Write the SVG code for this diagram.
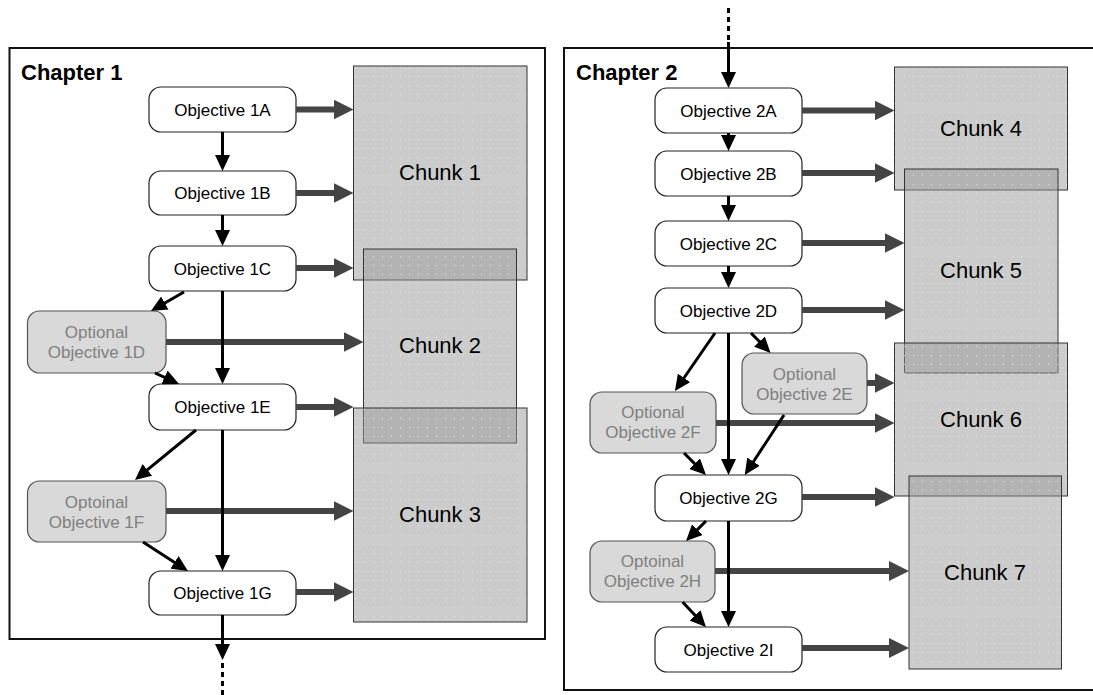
<svg xmlns="http://www.w3.org/2000/svg" width="1093" height="695" viewBox="0 0 1093 695">
<style>
.frame{fill:none;stroke:#111;stroke-width:2}
.title{font-family:"Liberation Sans",Arial,sans-serif;font-weight:bold;font-size:22px;fill:#000}
.obj{fill:#fff;stroke:#222;stroke-width:1.2}
.opt{fill:#d9d9d9;stroke:#555;stroke-width:1.2}
.otext{font-family:"Liberation Sans",Arial,sans-serif;font-size:17px;fill:#000;text-anchor:middle}
.ptext{font-family:"Liberation Sans",Arial,sans-serif;font-size:17px;fill:#808080;text-anchor:middle}
.chunk{fill:url(#dots);stroke:#333;stroke-width:1}
.ctext{font-family:"Liberation Sans",Arial,sans-serif;font-size:22px;fill:#000;text-anchor:middle}
.thick{stroke:#444;stroke-width:6;fill:none;marker-end:url(#hb)}
.thin{stroke:#000;stroke-width:3;fill:none;marker-end:url(#hs)}
.dot{stroke:#000;stroke-width:3;fill:none;stroke-dasharray:5,4}
</style>
<defs>
<pattern id="dots" width="9" height="9" patternUnits="userSpaceOnUse">
<rect width="9" height="9" fill="#999" fill-opacity="0.5"/>
<circle cx="4.5" cy="4.5" r="0.7" fill="#fff" fill-opacity="0.5"/>
</pattern>
<marker id="hb" markerUnits="userSpaceOnUse" markerWidth="20" markerHeight="20" refX="2" refY="10" orient="auto">
<path d="M0,0 L20,10 L0,20 z" fill="#444"/>
</marker>
<marker id="hs" markerUnits="userSpaceOnUse" markerWidth="16" markerHeight="15" refX="2" refY="7.5" orient="auto">
<path d="M0,0 L16,7.5 L0,15 z" fill="#000"/>
</marker>
</defs>
<rect width="1093" height="695" fill="#fff"/>

<g id="chapter1">
<rect class="frame" x="9.5" y="48" width="535.5" height="591"/>
<text class="title" x="21" y="80">Chapter 1</text>
</g>
<g id="chapter2">
<rect class="frame" x="564" y="48" width="560" height="642"/>
<text class="title" x="576" y="80">Chapter 2</text>
</g>

<g id="chunk1"><rect class="chunk" x="353.5" y="66" width="173.5" height="214"/><text class="ctext" x="440" y="180">Chunk 1</text></g>
<g id="chunk2"><rect class="chunk" x="363.5" y="249" width="153" height="194"/><text class="ctext" x="440" y="353">Chunk 2</text></g>
<g id="chunk3"><rect class="chunk" x="353.5" y="408" width="173.5" height="214"/><text class="ctext" x="440" y="522">Chunk 3</text></g>
<g id="chunk4"><rect class="chunk" x="894.5" y="67" width="173" height="123"/><text class="ctext" x="981" y="136">Chunk 4</text></g>
<g id="chunk5"><rect class="chunk" x="904.5" y="169" width="153.5" height="204"/><text class="ctext" x="981" y="278">Chunk 5</text></g>
<g id="chunk6"><rect class="chunk" x="894.5" y="343" width="173" height="153"/><text class="ctext" x="981" y="427">Chunk 6</text></g>
<g id="chunk7"><rect class="chunk" x="909" y="476" width="152.5" height="193"/><text class="ctext" x="985" y="580">Chunk 7</text></g>

<g id="obj1A"><rect class="obj" x="149" y="87" width="147" height="45" rx="12"/><text class="otext" x="222.5" y="115.5">Objective 1A</text></g>
<g id="obj1B"><rect class="obj" x="149" y="171" width="147" height="44" rx="12"/><text class="otext" x="222.5" y="199">Objective 1B</text></g>
<g id="obj1C"><rect class="obj" x="149" y="246" width="147" height="45" rx="12"/><text class="otext" x="222.5" y="274.5">Objective 1C</text></g>
<g id="obj1D"><rect class="opt" x="27.5" y="311" width="138.5" height="62" rx="12"/><text class="ptext" x="96.5" y="338">Optional</text><text class="ptext" x="96.5" y="358">Objective 1D</text></g>
<g id="obj1E"><rect class="obj" x="149" y="384" width="147" height="46" rx="12"/><text class="otext" x="222.5" y="413">Objective 1E</text></g>
<g id="obj1F"><rect class="opt" x="27.5" y="481" width="138.5" height="61" rx="12"/><text class="ptext" x="96.5" y="508">Optoinal</text><text class="ptext" x="96.5" y="528">Objective 1F</text></g>
<g id="obj1G"><rect class="obj" x="149" y="571" width="147" height="44" rx="12"/><text class="otext" x="222.5" y="599">Objective 1G</text></g>

<g id="obj2A"><rect class="obj" x="655" y="88" width="147" height="45" rx="12"/><text class="otext" x="728.5" y="116.5">Objective 2A</text></g>
<g id="obj2B"><rect class="obj" x="655" y="151" width="147" height="45" rx="12"/><text class="otext" x="728.5" y="179.5">Objective 2B</text></g>
<g id="obj2C"><rect class="obj" x="655" y="221" width="147" height="45" rx="12"/><text class="otext" x="728.5" y="249.5">Objective 2C</text></g>
<g id="obj2D"><rect class="obj" x="655" y="288" width="147" height="45" rx="12"/><text class="otext" x="728.5" y="316.5">Objective 2D</text></g>
<g id="obj2E"><rect class="opt" x="742" y="353" width="125" height="61" rx="12"/><text class="ptext" x="804.5" y="380">Optional</text><text class="ptext" x="804.5" y="400">Objective 2E</text></g>
<g id="obj2F"><rect class="opt" x="590" y="392" width="126" height="61" rx="12"/><text class="ptext" x="653" y="418">Optional</text><text class="ptext" x="653" y="438">Objective 2F</text></g>
<g id="obj2G"><rect class="obj" x="655" y="475" width="147" height="46" rx="12"/><text class="otext" x="728.5" y="504">Objective 2G</text></g>
<g id="obj2H"><rect class="opt" x="590" y="541" width="125" height="61" rx="12"/><text class="ptext" x="652.5" y="567">Optoinal</text><text class="ptext" x="652.5" y="587">Objective 2H</text></g>
<g id="obj2I"><rect class="obj" x="655" y="627" width="147" height="45" rx="12"/><text class="otext" x="728.5" y="655.5">Objective 2I</text></g>

<g id="connectors">
<line class="thick" x1="296" y1="109.5" x2="335.5" y2="109.5"/>
<line class="thick" x1="296" y1="193" x2="335.5" y2="193"/>
<line class="thick" x1="296" y1="268" x2="335.5" y2="268"/>
<line class="thick" x1="166" y1="342" x2="345.5" y2="342"/>
<line class="thick" x1="296" y1="407" x2="335.5" y2="407"/>
<line class="thick" x1="166" y1="511" x2="335.5" y2="511"/>
<line class="thick" x1="296" y1="592" x2="335.5" y2="592"/>
<line class="thick" x1="802" y1="110.5" x2="876.5" y2="110.5"/>
<line class="thick" x1="802" y1="173" x2="876.5" y2="173"/>
<line class="thick" x1="802" y1="243" x2="886.5" y2="243"/>
<line class="thick" x1="802" y1="310" x2="886.5" y2="310"/>
<line class="thick" x1="867" y1="383" x2="876.5" y2="383"/>
<line class="thick" x1="716" y1="423" x2="876.5" y2="423"/>
<line class="thick" x1="802" y1="497" x2="876.5" y2="497"/>
<line class="thick" x1="715" y1="571" x2="891" y2="571"/>
<line class="thick" x1="802" y1="648" x2="891" y2="648"/>

<line class="thin" x1="222.5" y1="132" x2="222.5" y2="157"/>
<line class="thin" x1="222.5" y1="215" x2="222.5" y2="232"/>
<line class="thin" x1="222.5" y1="291" x2="222.5" y2="370"/>
<line class="thin" x1="222.5" y1="430" x2="222.5" y2="557"/>
<line class="thin" x1="222.5" y1="615" x2="222.5" y2="646"/>
<line class="dot" x1="222.5" y1="663" x2="222.5" y2="695"/>
<line class="thin" x1="184" y1="292" x2="163.1" y2="304"/>
<line class="thin" x1="155" y1="373" x2="166.3" y2="378.2"/>
<line class="thin" x1="196" y1="430" x2="145.8" y2="471.1"/>
<line class="thin" x1="143" y1="542" x2="176.2" y2="563.4"/>

<line class="dot" x1="728.5" y1="8" x2="728.5" y2="44"/>
<line class="thin" x1="728.5" y1="42" x2="728.5" y2="74"/>
<line class="thin" x1="728.5" y1="133" x2="728.5" y2="137"/>
<line class="thin" x1="728.5" y1="196" x2="728.5" y2="207"/>
<line class="thin" x1="728.5" y1="266" x2="728.5" y2="274"/>
<line class="thin" x1="728.5" y1="333" x2="728.5" y2="461"/>
<line class="thin" x1="728.5" y1="521" x2="728.5" y2="613"/>
<line class="thin" x1="715" y1="333" x2="682.9" y2="379.5"/>
<line class="thin" x1="751" y1="333" x2="760.8" y2="343"/>
<line class="thin" x1="684" y1="453" x2="696.1" y2="465.1"/>
<line class="thin" x1="784" y1="415" x2="752.4" y2="463.3"/>
<line class="thin" x1="706" y1="521" x2="695.9" y2="531.1"/>
<line class="thin" x1="682.6" y1="602" x2="696.4" y2="616.8"/>
</g>
</svg>
